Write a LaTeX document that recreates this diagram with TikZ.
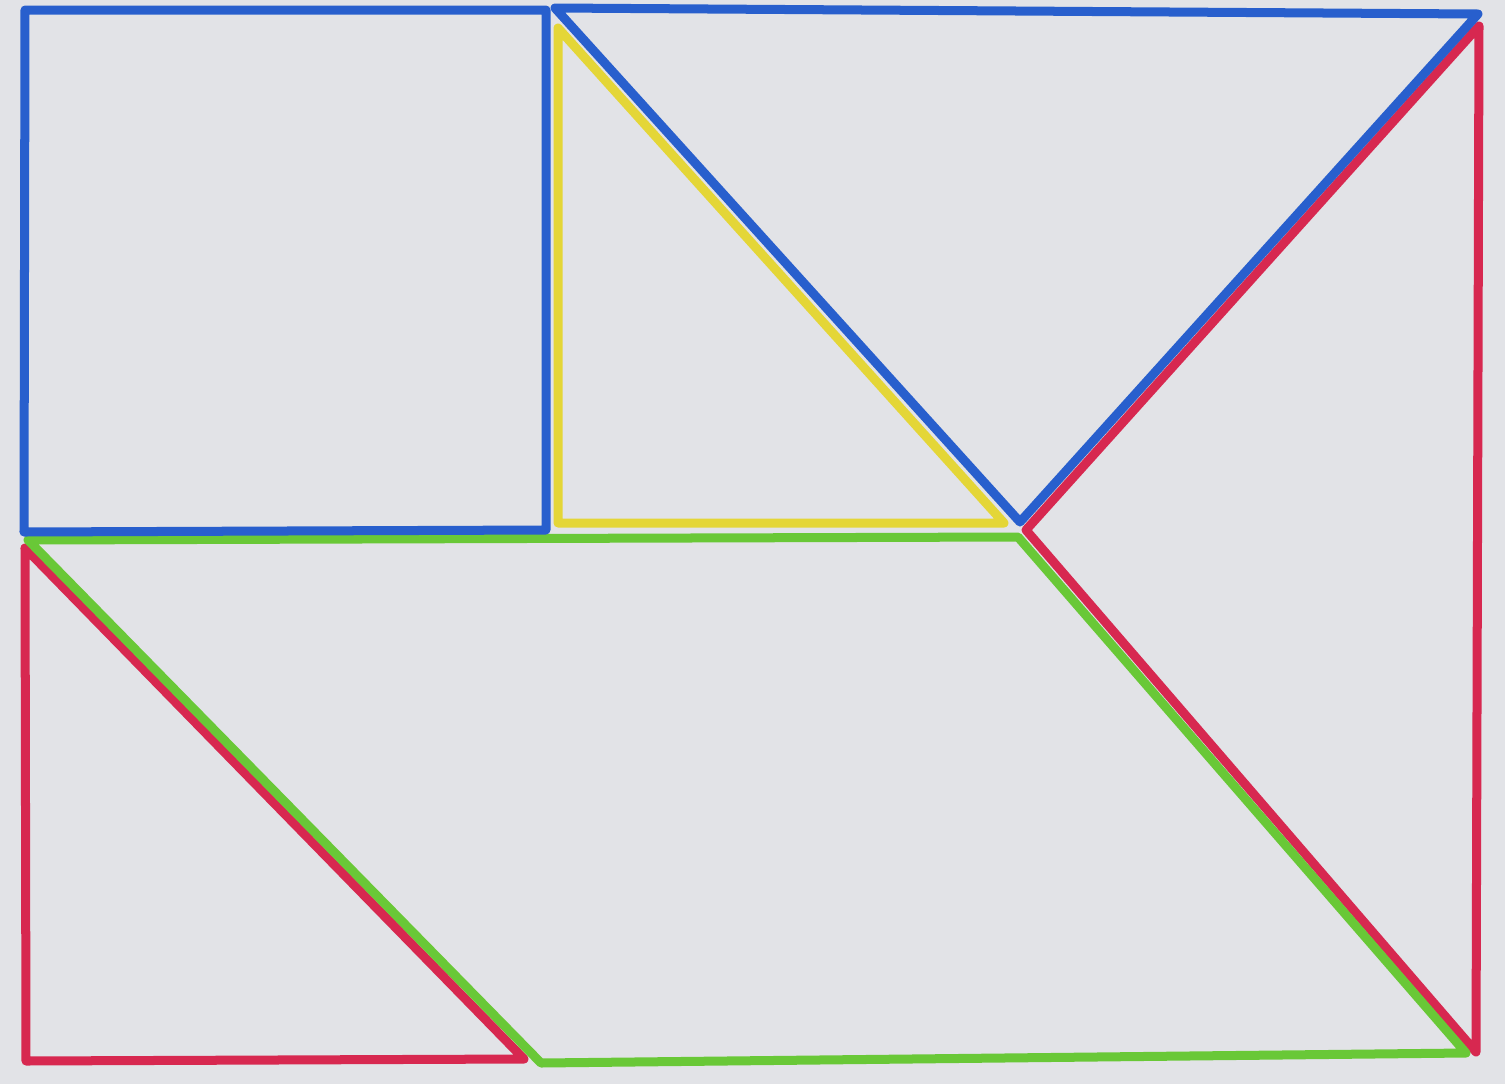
\documentclass[tikz,border=0pt]{standalone}
\definecolor{paper}{RGB}{226,227,231}
\definecolor{pblue}{RGB}{40,95,205}
\definecolor{pyellow}{RGB}{228,214,55}
\definecolor{pgreen}{RGB}{105,200,55}
\definecolor{pred}{RGB}{215,40,80}
\begin{document}
\begin{tikzpicture}[x=0.01cm, y=-0.01cm, line join=round, line cap=round,
    stroke/.style={line width=0.09cm}]
  \fill[paper] (0,0) rectangle (1505,1084);
  \useasboundingbox (0,0) rectangle (1505,1084);
  % blue square and blue triangle
  \coordinate (Q1) at (25,10); \coordinate (Q2) at (546,10);
  \coordinate (Q3) at (546,530); \coordinate (Q4) at (24,532);
  \coordinate (T1) at (555,8); \coordinate (T2) at (1478,14);
  \coordinate (T3) at (1020,522);
  % yellow triangle
  \coordinate (Y1) at (558,28); \coordinate (Y2) at (558,523);
  \coordinate (Y3) at (1004,523);
  % red triangles
  \coordinate (R1) at (1479,26); \coordinate (R2) at (1026,530);
  \coordinate (R3) at (1476,1052);
  \coordinate (L1) at (25,548); \coordinate (L2) at (524,1059);
  \coordinate (L3) at (26,1061);
  % green parallelogram
  \coordinate (G1) at (28,540); \coordinate (G2) at (1018,537);
  \coordinate (G3) at (1466,1053); \coordinate (G4) at (541,1063);
  \draw[stroke, pyellow] (Y1)--(Y2)--(Y3)--cycle;
  \draw[stroke, pred] (R1)--(R2)--(R3)--cycle;
  \draw[stroke, pred] (L1)--(L2)--(L3)--cycle;
  \draw[stroke, pgreen] (G1)--(G2)--(G3)--(G4)--cycle;
  \draw[stroke, pblue] (Q1)--(Q2)--(Q3)--(Q4)--cycle;
  \draw[stroke, pblue] (T1)--(T2)--(T3)--cycle;
\end{tikzpicture}
\end{document}
